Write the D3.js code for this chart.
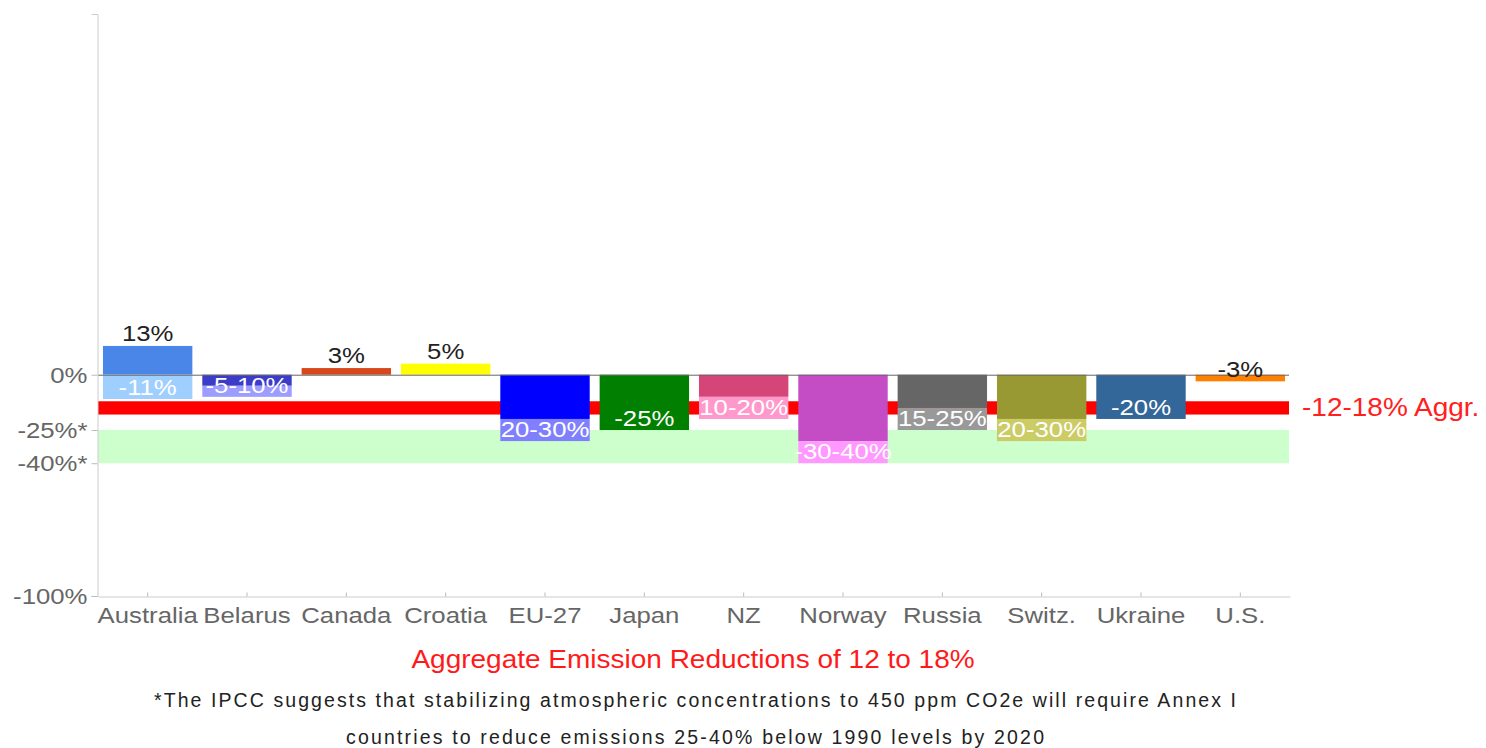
<!DOCTYPE html>
<html>
<head>
<meta charset="utf-8">
<script src="https://cdn.jsdelivr.net/npm/d3@7"></script>
<style>
  body { margin: 0; background: #fff; }
  text { font-family: "Liberation Sans", Arial, Helvetica, sans-serif; }
</style>
</head>
<body>
<svg width="1486" height="748"></svg>
<script>
// data
var countries = ["Australia", "Belarus", "Canada", "Croatia", "EU-27", "Japan",
                 "NZ", "Norway", "Russia", "Switz.", "Ukraine", "U.S."];
var highEnd = [13, -5, 3, 5, -20, -25, -10, -30, -15, -20, -20, -3];
var lowEnd  = [-11, -10, 3, 5, -30, -25, -20, -40, -25, -30, -20, -3];
var topLabels = ["13%", "", "3%", "5%", "", "", "", "", "", "", "", ""];
var bottomLabels = ["-11%", "-5-10%", "", "", "20-30%", "-25%", "10-20%",
                    "-30-40%", "15-25%", "20-30%", "-20%", "-3%"];
var darkColors  = ["#4a86e8", "#3c3cc8", "#d8461b", "#ffff00", "#0000ff", "#007f00",
                   "#d64577", "#c44cc4", "#666666", "#999933", "#336699", "#ff8000"];
var lightColors = ["#9fcfff", "#9d9dff", "#d8461b", "#ffff00", "#8080ff", "#007f00",
                   "#ff99cc", "#ff99ff", "#999999", "#cccc66", "#336699", "#ff8000"];
var labelColors = ["#fff", "#fff", "#fff", "#fff", "#fff", "#fff",
                   "#fff", "#fff", "#fff", "#fff", "#fff", "#222"];
var yTicks = [0, -25, -40, -100];
var yTickLabels = ["0%", "-25%*", "-40%*", "-100%"];
var ipccBand = [-25, -40];
var aggBand = [-12, -18];
var aggLabel = "-12-18% Aggr.";
var title = "Aggregate Emission Reductions of 12 to 18%";
var footnote = ["*The IPCC suggests that stabilizing atmospheric concentrations to 450 ppm CO2e will require Annex I",
                "countries to reduce emissions 25-40% below 1990 levels by 2020"];

var sx = 1.12; // text in the original is a little wide

var svg = d3.select("svg");

var x = d3.scaleBand()
    .domain(countries)
    .range([98, 1290])
    .paddingInner(0.1)
    .paddingOuter(0.05);

var y = d3.scaleLinear()
    .domain([-100, 163])
    .range([596, 14]);

// IPCC range band (green)
svg.append("rect")
    .attr("x", 98)
    .attr("width", 1191)
    .attr("y", y(ipccBand[0]))
    .attr("height", y(ipccBand[1]) - y(ipccBand[0]))
    .attr("fill", "#ccffcc");

// aggregate band (red)
svg.append("rect")
    .attr("x", 98)
    .attr("width", 1191)
    .attr("y", y(aggBand[0]))
    .attr("height", y(aggBand[1]) - y(aggBand[0]))
    .attr("fill", "#ff0000");

var idx = d3.range(countries.length);

// dark part: 0 -> high end
svg.selectAll(".dark")
    .data(idx)
    .enter().append("rect")
    .attr("class", "dark")
    .attr("x", function(i) { return x(countries[i]); })
    .attr("width", x.bandwidth())
    .attr("y", function(i) { return y(Math.max(0, highEnd[i])); })
    .attr("height", function(i) { return Math.abs(y(highEnd[i]) - y(0)); })
    .attr("fill", function(i) { return darkColors[i]; });

// light part: down to the low end
svg.selectAll(".light")
    .data(idx.filter(function(i) { return lowEnd[i] < Math.min(0, highEnd[i]); }))
    .enter().append("rect")
    .attr("class", "light")
    .attr("x", function(i) { return x(countries[i]); })
    .attr("width", x.bandwidth())
    .attr("y", function(i) { return y(Math.min(0, highEnd[i])); })
    .attr("height", function(i) { return y(lowEnd[i]) - y(Math.min(0, highEnd[i])); })
    .attr("fill", function(i) { return lightColors[i]; });

// zero line
svg.append("line")
    .attr("x1", 98).attr("x2", 1289)
    .attr("y1", y(0) + 0.5).attr("y2", y(0) + 0.5)
    .attr("stroke", "#666");

// axes
var yAxis = svg.append("g")
    .attr("transform", "translate(97.5,0)")
    .call(d3.axisLeft(y)
        .tickValues(yTicks)
        .tickFormat(function(d, i) { return yTickLabels[i]; })
        .tickSizeInner(6)
        .tickSizeOuter(6)
        .tickPadding(10));

var xAxis = svg.append("g")
    .attr("transform", "translate(0,596.5)")
    .call(d3.axisBottom(x)
        .tickSizeInner(-4)
        .tickSizeOuter(0)
        .tickPadding(10));

[yAxis, xAxis].forEach(function(g) {
  g.select(".domain").attr("stroke", "#ccc");
  g.selectAll(".tick line").attr("stroke", "#bbb");
  g.selectAll(".tick text")
      .attr("fill", "#666")
      .style("font-size", "23px")
      .attr("transform", "scale(" + sx + ",1)");
});
yAxis.selectAll(".tick text").attr("x", -10 / sx);

// bar labels
svg.selectAll(".toplab")
    .data(idx.filter(function(i) { return topLabels[i]; }))
    .enter().append("text")
    .attr("class", "toplab")
    .attr("transform", function(i) {
      return "translate(" + (x(countries[i]) + x.bandwidth() / 2) + "," + (y(highEnd[i]) - 5) + ") scale(" + sx + ",1)";
    })
    .attr("text-anchor", "middle")
    .attr("fill", "#222")
    .style("font-size", "23px")
    .text(function(i) { return topLabels[i]; });

svg.selectAll(".botlab")
    .data(idx.filter(function(i) { return bottomLabels[i]; }))
    .enter().append("text")
    .attr("class", "botlab")
    .attr("transform", function(i) {
      return "translate(" + (x(countries[i]) + x.bandwidth() / 2) + "," + (y(lowEnd[i]) - 4) + ") scale(" + sx + ",1)";
    })
    .attr("text-anchor", "middle")
    .attr("fill", function(i) { return labelColors[i]; })
    .style("font-size", "23px")
    .text(function(i) { return bottomLabels[i]; });

// aggregate label on the right
svg.append("text")
    .attr("transform", "translate(1302," + (y(aggBand[1]) + 1) + ") scale(" + sx + ",1)")
    .attr("fill", "#ff2020")
    .style("font-size", "25px")
    .text(aggLabel);

// title under the axis
svg.append("text")
    .attr("transform", "translate(693,668) scale(" + sx + ",1)")
    .attr("text-anchor", "middle")
    .attr("fill", "#ff1a1a")
    .style("font-size", "25px")
    .text(title);

// footnote
var footWidths = [1082, 698];
svg.selectAll(".foot")
    .data(footnote)
    .enter().append("text")
    .attr("class", "foot")
    .attr("x", function(d, i) { return 695 - footWidths[i] / 2; })
    .attr("y", function(d, i) { return 707 + i * 37; })
    .attr("textLength", function(d, i) { return footWidths[i]; })
    .attr("lengthAdjust", "spacing")
    .attr("fill", "#222")
    .style("font-size", "19.5px")
    .text(function(d) { return d; });
</script>
</body>
</html>
